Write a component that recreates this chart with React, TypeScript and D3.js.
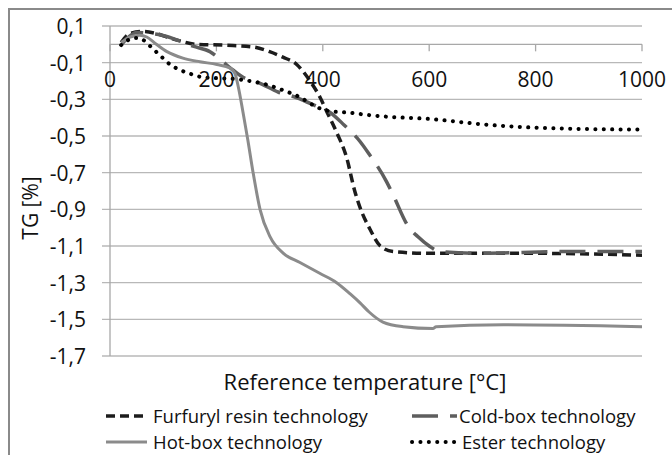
import * as React from "react";
import * as d3 from "d3";

// temperature [°C] / TG [%]
const furfurylT = [21, 38, 62, 85, 107, 130, 163, 220, 270, 300, 325, 351, 376, 395, 408, 426, 445, 460, 470, 489, 508, 532, 600, 800, 1000];
const furfurylTG = [0.01, 0.06, 0.07, 0.06, 0.04, 0.02, 0.0, -0.005, -0.015, -0.04, -0.07, -0.11, -0.2, -0.29, -0.37, -0.48, -0.62, -0.8, -0.89, -1.01, -1.1, -1.13, -1.14, -1.14, -1.15];

const coldBoxT = [22, 35, 50, 75, 98, 130, 156, 188, 210, 231, 250, 280, 316, 350, 390, 413, 440, 470, 485, 520, 532, 560, 579, 600, 620, 700, 850, 1000];
const coldBoxTG = [0.0, 0.04, 0.065, 0.06, 0.05, 0.02, -0.01, -0.04, -0.09, -0.14, -0.18, -0.21, -0.26, -0.29, -0.34, -0.37, -0.44, -0.53, -0.59, -0.75, -0.82, -0.99, -1.05, -1.1, -1.13, -1.14, -1.13, -1.13];

const hotBoxT = [21, 38, 56, 69, 85, 107, 137, 169, 201, 226, 235, 241, 250, 259, 269, 282, 301, 326, 357, 395, 426, 451, 470, 487, 513, 551, 607, 613, 739, 1000];
const hotBoxTG = [0.01, 0.04, 0.05, 0.04, 0.005, -0.04, -0.075, -0.095, -0.11, -0.13, -0.16, -0.23, -0.37, -0.52, -0.7, -0.9, -1.05, -1.14, -1.19, -1.25, -1.3, -1.36, -1.41, -1.46, -1.515, -1.54, -1.55, -1.54, -1.53, -1.54];

const esterT = [21, 32, 50, 62, 79, 94, 113, 132, 150, 175, 207, 238, 263, 295, 325, 351, 395, 413, 438, 500, 613, 695, 739, 863, 1000];
const esterTG = [-0.004, 0.02, 0.035, 0.025, -0.02, -0.06, -0.11, -0.14, -0.16, -0.18, -0.185, -0.19, -0.2, -0.22, -0.25, -0.28, -0.35, -0.365, -0.37, -0.39, -0.41, -0.435, -0.445, -0.46, -0.465];

const xTicks = [0, 200, 400, 600, 800, 1000];
const yTicks = [0.1, -0.1, -0.3, -0.5, -0.7, -0.9, -1.1, -1.3, -1.5, -1.7];

const seriesNames = ["Furfuryl resin technology", "Cold-box technology", "Hot-box technology", "Ester technology"];

const font = "'Open Sans', 'DejaVu Sans', sans-serif";

export default function App() {
  const width = 672;
  const height = 455;

  const x = d3.scaleLinear().domain([0, 1000]).range([110, 642]);
  const y = d3.scaleLinear().domain([-1.7, 0.1]).range([356, 26]);

  const line = d3.line<[number, number]>()
    .x(d => x(d[0]))
    .y(d => y(d[1]))
    .curve(d3.curveMonotoneX);

  const zip = (a: number[], b: number[]) => a.map((v, i) => [v, b[i]] as [number, number]);

  const styles = [
    { stroke: "#1c1c1c", width: 3.5, dash: "9,5", cap: "butt" },
    { stroke: "#5e5e5e", width: 3.5, dash: "26,12", cap: "butt" },
    { stroke: "#8b8b8b", width: 3, dash: "none", cap: "butt" },
    { stroke: "#000", width: 4, dash: "0.1,8.3", cap: "round" },
  ];
  const series = [
    zip(furfurylT, furfurylTG),
    zip(coldBoxT, coldBoxTG),
    zip(hotBoxT, hotBoxTG),
    zip(esterT, esterTG),
  ];

  const fmt = (v: number) => v.toFixed(1).replace(".", ",");

  // legend slots: [lineStart, lineEnd, textX, rowY]
  const legendPos = [
    [106, 147, 153, 416],
    [412, 457, 459, 416],
    [106, 147, 153, 442],
    [412, 458, 462, 442],
  ];

  return (
    <svg width={width} height={height} style={{ position: "absolute", left: 0, top: 0, background: "#fff" }}>
      <rect x={9} y={9} width={700} height={480} fill="none" stroke="#8a8a8a" strokeWidth={2} />

      {/* gridlines */}
      {yTicks.map(t => (
        <line key={t} x1={102} x2={642} y1={y(t)} y2={y(t)} stroke="#b8b8b8" strokeWidth={1.3} />
      ))}
      {/* y axis line */}
      <line x1={x(0)} x2={x(0)} y1={y(0.1)} y2={y(-1.7)} stroke="#a8a8a8" strokeWidth={1.3} />
      {/* x axis at zero */}
      <line x1={x(0)} x2={x(1000)} y1={y(0)} y2={y(0)} stroke="#a8a8a8" strokeWidth={1.3} />
      {xTicks.map(t => (
        <line key={t} x1={x(t)} x2={x(t)} y1={y(0)} y2={y(0) + 7} stroke="#a8a8a8" strokeWidth={1.3} />
      ))}

      {/* series */}
      {series.map((pts, i) => (
        <path key={i} d={line(pts) || ""} fill="none" stroke={styles[i].stroke}
          strokeWidth={styles[i].width} strokeDasharray={styles[i].dash}
          strokeLinecap={styles[i].cap as any} strokeLinejoin="round" />
      ))}

      {/* tick labels */}
      <g fontFamily={font} fontSize={21} fill="#111">
        {yTicks.map(t => (
          <text key={t} x={86} y={y(t) + 8} textAnchor="end">{fmt(t)}</text>
        ))}
        {xTicks.map(t => (
          <text key={t} x={x(t)} y={87} textAnchor="middle">{t}</text>
        ))}
        <text x={365} y={390} textAnchor="middle" fontSize={22}>Reference temperature [°C]</text>
        <text transform="translate(38,208) rotate(-90)" textAnchor="middle">TG [%]</text>
        {seriesNames.map((name, i) => {
          const [l0, l1, tx, ry] = legendPos[i];
          return (
            <g key={name}>
              <line x1={l0} x2={l1} y1={ry} y2={ry} stroke={styles[i].stroke}
                strokeWidth={styles[i].width} strokeDasharray={styles[i].dash}
                strokeLinecap={styles[i].cap as any} />
              <text x={tx} y={ry + 7} fontSize={18.5}>{name}</text>
            </g>
          );
        })}
      </g>
    </svg>
  );
}
